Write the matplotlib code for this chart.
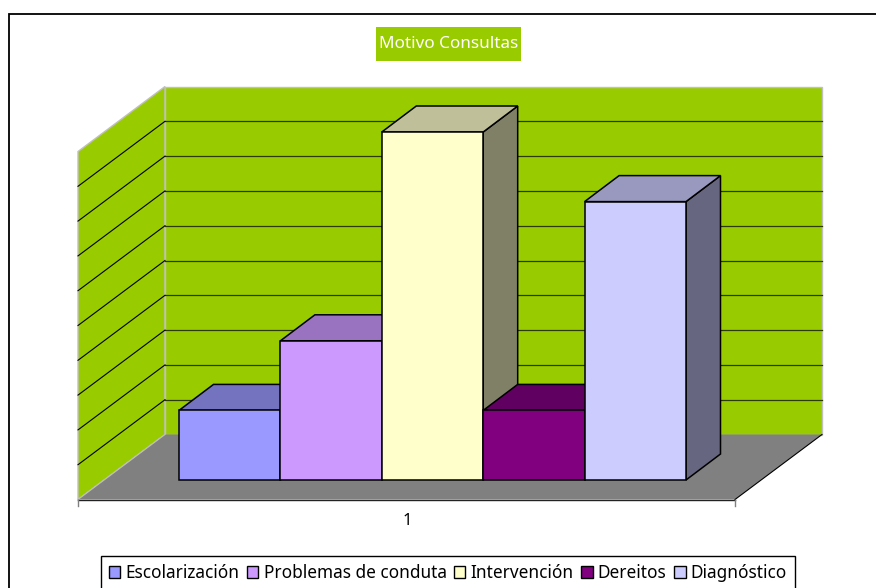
import matplotlib
matplotlib.use("Agg")
import matplotlib.pyplot as plt
from matplotlib.patches import Patch, Polygon, Rectangle

title = "Motivo Consultas"
category = "1"
series = ["Escolarización", "Problemas de conduta", "Intervención", "Dereitos", "Diagnóstico"]
values = [2, 4, 10, 2, 8]
colors = ["#9999ff", "#cc99ff", "#ffffcc", "#800080", "#ccccff"]
gridlines = list(range(0, 11))

W, H = 876, 588
# one bar is 101.4 px wide, one value unit is 34.8 px high, origin at the first bar's foot
XS, YS = 101.4, 34.8
X0, Y0 = 179, 480

BAR_DX, BAR_DY = 34.5 / XS, 26 / YS
WALL_DX, WALL_DY = 87 / XS, 65 / YS
FLOOR_LEFT, FLOOR_RIGHT = (78 - X0) / XS, (735 - X0) / XS
FLOOR_Y = (Y0 - 499.5) / YS

GREEN = "#99cc00"


def shade(color, k):
    r, g, b = matplotlib.colors.to_rgb(color)
    return (r * k, g * k, b * k)


fig = plt.figure(figsize=(W / 100, H / 100), dpi=100)
ax = fig.add_axes([0, 0, 1, 1])
ax.set_xlim(-X0 / XS, (W - X0) / XS)
ax.set_ylim((Y0 - H) / YS, Y0 / YS)
ax.axis("off")

# chart frame, runs off the right and bottom of the image
fig.add_artist(Rectangle((8.5 / W, -0.05), 1.05, 1.05 - 14.5 / H, transform=fig.transFigure,
                         fc="white", ec="black", lw=1.3, zorder=-1))

top = max(gridlines)
wl, wr = FLOOR_LEFT, FLOOR_RIGHT

# side wall, back wall, floor
ax.add_patch(Polygon([(wl, FLOOR_Y), (wl + WALL_DX, FLOOR_Y + WALL_DY),
                      (wl + WALL_DX, FLOOR_Y + WALL_DY + top), (wl, FLOOR_Y + top)],
                     fc=GREEN, ec="#c0c0c0", lw=1, zorder=1))
ax.add_patch(Polygon([(wl + WALL_DX, FLOOR_Y + WALL_DY), (wr + WALL_DX, FLOOR_Y + WALL_DY),
                      (wr + WALL_DX, FLOOR_Y + WALL_DY + top), (wl + WALL_DX, FLOOR_Y + WALL_DY + top)],
                     fc=GREEN, ec="#c0c0c0", lw=1, zorder=1))

for v in gridlines[1:-1]:
    yb = FLOOR_Y + WALL_DY + v
    ax.plot([wl + WALL_DX, wr + WALL_DX], [yb, yb], color="#2b3a00", lw=0.9, zorder=2)
    ax.plot([wl, wl + WALL_DX], [FLOOR_Y + v, yb], color="black", lw=0.8, zorder=2)

ax.add_patch(Polygon([(wl, FLOOR_Y), (wr, FLOOR_Y), (wr + WALL_DX, FLOOR_Y + WALL_DY), (wl + WALL_DX, FLOOR_Y + WALL_DY)],
                     fc="#808080", ec="none", zorder=3))
ax.plot([wl, wl + WALL_DX], [FLOOR_Y, FLOOR_Y + WALL_DY], color="#c0c0c0", lw=0.8, zorder=3)
ax.plot([wr, wr + WALL_DX], [FLOOR_Y, FLOOR_Y + WALL_DY], color="black", lw=0.8, zorder=3)
ax.plot([wl, wr], [FLOOR_Y, FLOOR_Y], color="#222222", lw=1, zorder=3)
for x in (wl, wr):
    ax.plot([x, x], [FLOOR_Y, FLOOR_Y - 6 / YS], color="#808080", lw=1, zorder=3)

# bars, left to right so each one covers the side of the previous
for i, (v, c) in enumerate(zip(values, colors)):
    side = [(i + 1, 0), (i + 1 + BAR_DX, BAR_DY), (i + 1 + BAR_DX, v + BAR_DY), (i + 1, v)]
    roof = [(i, v), (i + 1, v), (i + 1 + BAR_DX, v + BAR_DY), (i + BAR_DX, v + BAR_DY)]
    front = [(i, 0), (i + 1, 0), (i + 1, v), (i, v)]
    z = 4 + i
    ax.add_patch(Polygon(side, fc=shade(c, 0.5), ec="black", lw=1.1, joinstyle="miter", zorder=z))
    ax.add_patch(Polygon(roof, fc=shade(c, 0.75), ec="black", lw=1.1, joinstyle="miter", zorder=z))
    ax.add_patch(Polygon(front, fc=c, ec="black", lw=1.1, joinstyle="miter", zorder=z))

font = "Noto Sans"
ax.text(len(values) / 2 - 0.25, FLOOR_Y - 21.5 / YS, category, ha="center", va="center", fontsize=12, family=font, color="black")

# title on its green box
fig.add_artist(Rectangle((376 / W, 1 - 61 / H), 145 / W, 34 / H, transform=fig.transFigure, fc=GREEN, ec="none", zorder=-0.5))
fig.text(448.5 / W, 1 - 43.5 / H, title, ha="center", va="center", color="white", fontsize=12.3, family=font)

handles = [Patch(fc=c, ec="black", lw=1) for c in colors]
leg = fig.legend(handles, series, ncol=len(series), loc="center",
                 bbox_to_anchor=(448 / W, 1 - 573 / H),
                 prop={"family": font, "size": 12.4},
                 frameon=True, fancybox=False, edgecolor="black", framealpha=1,
                 handlelength=0.65, handleheight=0.65, handletextpad=0.3, columnspacing=0.45,
                 borderpad=0.45, borderaxespad=0)
leg.get_frame().set_linewidth(1)

fig.savefig("out.png", dpi=100)
